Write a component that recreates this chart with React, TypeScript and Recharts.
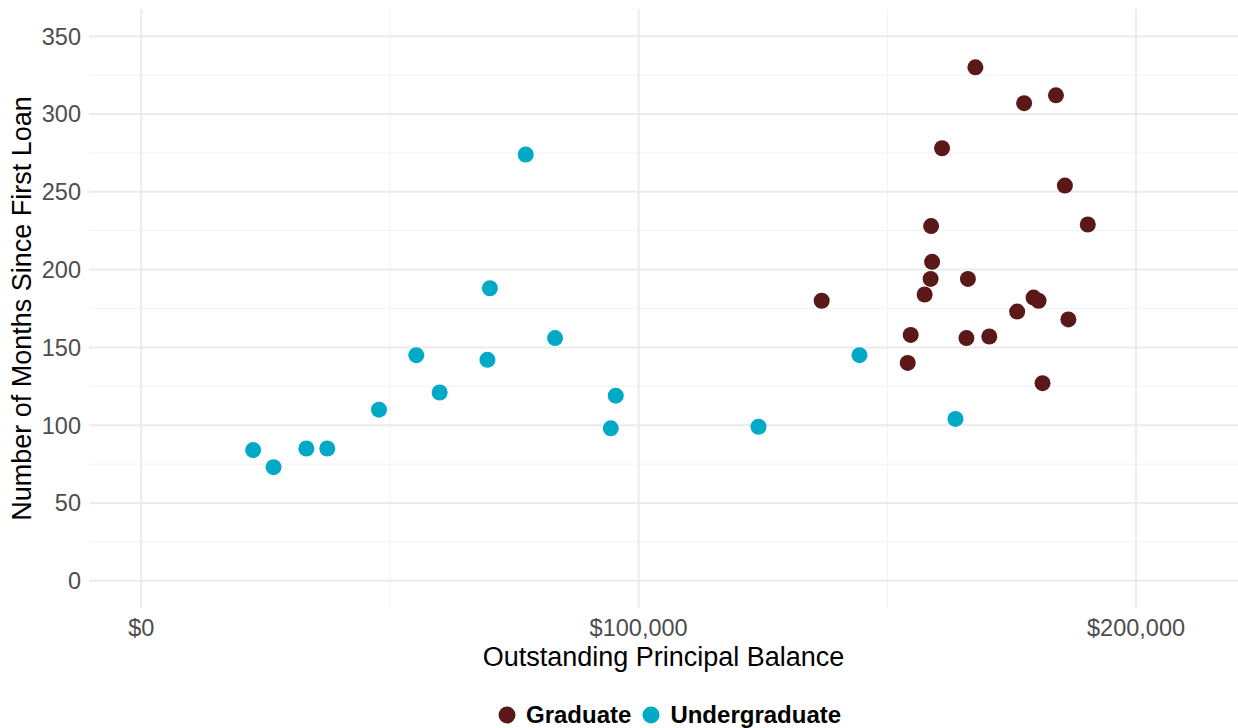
import {
  ScatterChart,
  Scatter,
  XAxis,
  YAxis,
  ReferenceLine,
  Legend,
} from 'recharts';

const graduateBalance = [
  167700, 177500, 183900, 161000, 185700, 158800, 190300, 159000, 158700, 166200, 157500,
  136800, 179400, 180400, 176100, 186400, 154700, 165900, 170500, 154100, 181200,
];
const graduateMonths = [
  330, 307, 312, 278, 254, 228, 229, 205, 194, 194, 184,
  180, 182, 180, 173, 168, 158, 156, 157, 140, 127,
];

const undergradBalance = [
  22500, 26600, 33200, 37400, 47800, 55300, 60000, 69600, 70100, 77300, 83200,
  94400, 95400, 124100, 144400, 163700,
];
const undergradMonths = [
  84, 73, 85, 85, 110, 145, 121, 142, 188, 274, 156,
  98, 119, 99, 145, 104,
];

const xTicks = [0, 100000, 200000];
const xMinor = [50000, 150000];
const yTicks = [0, 50, 100, 150, 200, 250, 300, 350];
const yMinor = [25, 75, 125, 175, 225, 275, 325];

const graduateData = graduateBalance.map((x, i) => ({ x, y: graduateMonths[i] }));
const undergradData = undergradBalance.map((x, i) => ({ x, y: undergradMonths[i] }));

const FONT = '"Liberation Sans", Arial, sans-serif';
const GRAD = '#5a1818';
const UNDER = '#00a9c6';

const money = (v: number) => '$' + v.toLocaleString('en-US');

const dot = (color: string) => (p: any) => (
  <circle cx={p.cx} cy={p.cy} r={8} fill={color} />
);

function LegendBox({ payload }: any) {
  return (
    <div
      style={{
        height: 26,
        display: 'flex',
        alignItems: 'center',
        paddingLeft: 498,
        fontFamily: FONT,
        fontWeight: 'bold',
        fontSize: 24,
        color: '#000',
      }}
    >
      {(payload || []).map((e: any) => (
        <div key={e.value} style={{ display: 'flex', alignItems: 'center', marginRight: 11 }}>
          <svg width={18} height={18} style={{ marginRight: 10 }}>
            <circle cx={9} cy={9} r={8.5} fill={e.color} />
          </svg>
          <span>{e.value}</span>
        </div>
      ))}
    </div>
  );
}

export default function App() {
  return (
    <div style={{ position: 'absolute', left: 0, top: 0, background: '#fff' }}>
      <ScatterChart
        width={1238}
        height={728}
        margin={{ top: 9, right: 0, left: 0, bottom: 0 }}
      >
        {yMinor.map((v) => (
          <ReferenceLine key={'ym' + v} y={v} stroke="#f2f2f2" strokeWidth={1} />
        ))}
        {xMinor.map((v) => (
          <ReferenceLine key={'xm' + v} x={v} stroke="#f2f2f2" strokeWidth={1} />
        ))}
        {yTicks.map((v) => (
          <ReferenceLine key={'y' + v} y={v} stroke="#ebebeb" strokeWidth={2} />
        ))}
        {xTicks.map((v) => (
          <ReferenceLine key={'x' + v} x={v} stroke="#ebebeb" strokeWidth={2} />
        ))}
        <XAxis
          type="number"
          dataKey="x"
          domain={[-10500, 220500]}
          ticks={xTicks}
          tickFormatter={money}
          axisLine={false}
          tickLine={false}
          tickSize={0}
          tickMargin={11}
          height={94}
          tick={{ fontSize: 23.5, fill: '#4d4d4d', fontFamily: FONT }}
          label={{
            content: ({ viewBox }: any) => (
              <text
                x={viewBox.x + viewBox.width / 2}
                y={viewBox.y + 49}
                textAnchor="middle"
                dominantBaseline="central"
                fontSize={27}
                fontFamily={FONT}
                fill="#000"
              >
                Outstanding Principal Balance
              </text>
            ),
          }}
        />
        <YAxis
          type="number"
          dataKey="y"
          domain={[-17.5, 367.5]}
          ticks={yTicks}
          axisLine={false}
          tickLine={false}
          tickSize={0}
          tickMargin={8}
          width={89}
          tick={{ fontSize: 23.5, fill: '#4d4d4d', fontFamily: FONT }}
          label={{
            content: ({ viewBox }: any) => {
              const cy = viewBox.y + viewBox.height / 2;
              return (
                <text
                  x={22}
                  y={cy}
                  transform={`rotate(-90, 22, ${cy})`}
                  textAnchor="middle"
                  dominantBaseline="central"
                  fontSize={27}
                  fontFamily={FONT}
                  fill="#000"
                >
                  Number of Months Since First Loan
                </text>
              );
            },
          }}
        />
        <Legend verticalAlign="bottom" content={<LegendBox />} />
        <Scatter
          name="Graduate"
          data={graduateData}
          fill={GRAD}
          shape={dot(GRAD)}
          isAnimationActive={false}
        />
        <Scatter
          name="Undergraduate"
          data={undergradData}
          fill={UNDER}
          shape={dot(UNDER)}
          isAnimationActive={false}
        />
      </ScatterChart>
    </div>
  );
}
